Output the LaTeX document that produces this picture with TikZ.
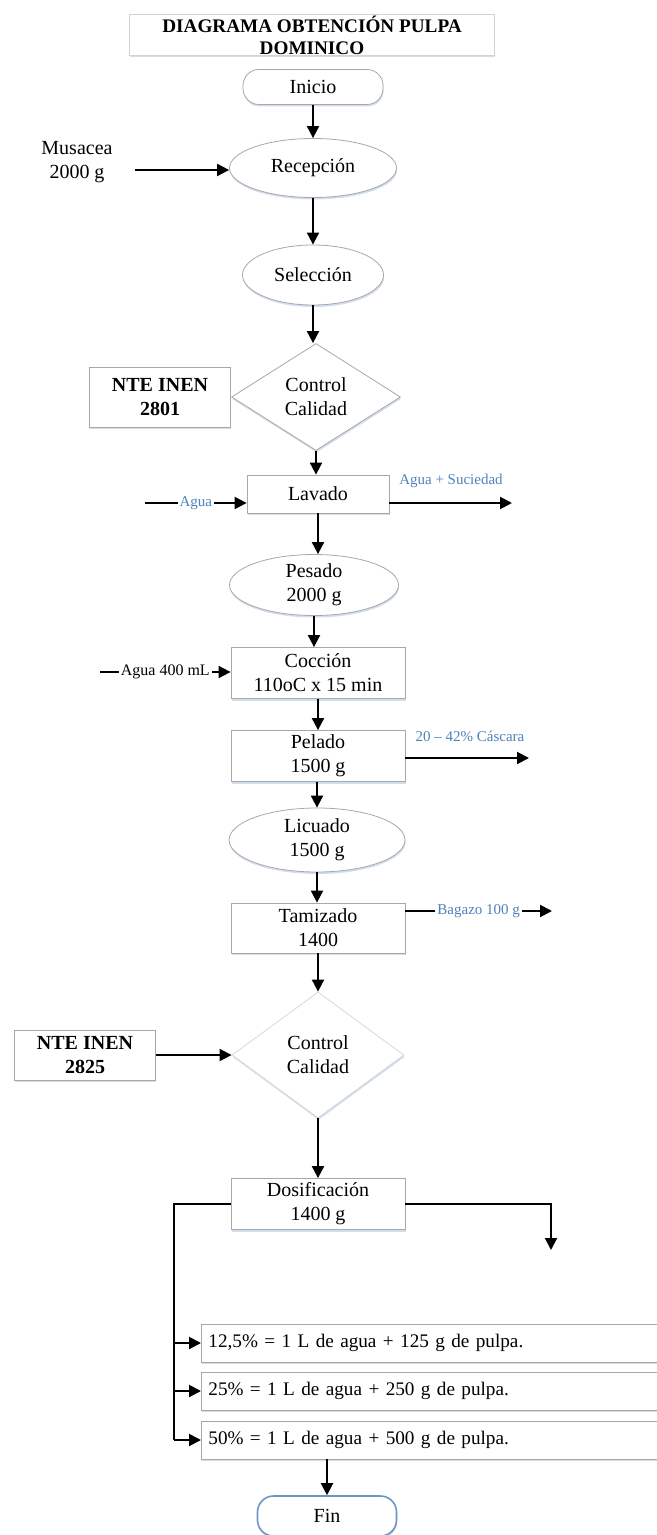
\documentclass[tikz,border=0pt]{standalone}
\usepackage{fontspec}
\setmainfont{Liberation Serif}
\usepackage{tikz}
\usetikzlibrary{arrows.meta, shapes.geometric, shadows, positioning}
\definecolor{azul}{HTML}{4F81BD}
\definecolor{borde}{HTML}{A8A8A8}
\definecolor{sombra}{HTML}{CCDAEC}
\definecolor{bordefin}{HTML}{6A96C8}

\begin{document}
\begin{tikzpicture} [x=0.5pt, y=-0.5pt,
	font=\fontsize{10}{12}\selectfont,
	flecha/.style={-{Triangle[length=6pt, width=6pt]}, line width=1pt},
	linea/.style={line width=1pt},
	caja/.style={draw=borde, fill=white, align=center, inner sep=0pt,
		drop shadow={shadow xshift=0.3pt, shadow yshift=-1pt, fill=sombra, opacity=0.9}},
	oval/.style={caja, ellipse},
	rombo/.style={caja, diamond, aspect=1.5},
	inicio/.style={caja, rounded corners=8pt},
	nota/.style={caja, font=\fontsize{10}{12}\selectfont\bfseries},
	opcion/.style={caja, anchor=west, align=left, text width=243pt,
		inner xsep=3.5pt, minimum height=19pt, font=\fontsize{9.6}{12}\selectfont},
	salida/.style={font=\fontsize{7.5}{9}\selectfont, text=azul, inner sep=1pt}]
	
	\useasboundingbox (0,0) rectangle (657,1535);
	\clip (0,0) rectangle (657,1535);
	
	% titulo e inicio
	\node[caja, draw=borde!50, font=\fontsize{9.6}{11}\selectfont\bfseries,
		minimum width=182.5pt, minimum height=20.5pt] (titulo) at (312,35)
		{DIAGRAMA OBTENCIÓN PULPA\\DOMINICO};
	\node[inicio, minimum width=70pt, minimum height=17.5pt] (inicio) at (313,87) {Inicio};
	
	% etapas del proceso
	\node[oval, minimum width=83.5pt, minimum height=29.5pt] (recepcion) at (313,168) {Recepción};
	\node[oval, minimum width=70.5pt, minimum height=30pt] (seleccion) at (313,275) {Selección};
	\node[rombo, minimum width=84.5pt, minimum height=53.5pt] (controlA) at (316,397) {Control\\Calidad};
	\node[nota, minimum width=70.5pt, minimum height=30pt] (nteA) at (160,397) {NTE INEN\\2801};
	\node[caja, minimum width=71pt, minimum height=19pt] (lavado) at (318,494) {Lavado};
	\node[oval, minimum width=84.5pt, minimum height=30.5pt] (pesado) at (314,585) {Pesado\\2000 g};
	\node[caja, minimum width=87pt, minimum height=25.5pt] (coccion) at (318,673) {Cocción\\110oC x 15 min};
	\node[caja, minimum width=87pt, minimum height=25.5pt] (pelado) at (318,756) {Pelado\\1500 g};
	\node[oval, minimum width=88pt, minimum height=32pt] (licuado) at (317,840) {Licuado\\1500 g};
	\node[caja, minimum width=87pt, minimum height=25pt] (tamizado) at (318,928) {Tamizado\\1400};
	\node[rombo, draw=borde!45, minimum width=86pt, minimum height=63pt] (controlB) at (318,1055) {Control\\Calidad};
	\node[nota, minimum width=70.5pt, minimum height=25pt] (nteB) at (85,1055) {NTE INEN\\2825};
	\node[caja, minimum width=87pt, minimum height=25.5pt] (dosificacion) at (318,1204) {Dosificación\\1400 g};
	
	% diluciones
	\node[opcion] (opcA) at (201,1343) {12,5\% = 1 L de agua + 125 g de pulpa.};
	\node[opcion] (opcB) at (201,1391) {25\% = 1 L de agua + 250 g de pulpa.};
	\node[opcion] (opcC) at (201,1440) {50\% = 1 L de agua + 500 g de pulpa.};
	\node[inicio, draw=bordefin, line width=0.8pt, minimum width=69.5pt, minimum height=20pt] (fin) at (327,1516) {Fin};
	
	% entradas y salidas
	\node[align=center] (musacea) at (77,162) {Musacea\\2000 g};
	\coordinate (musaceaIn) at (135,170);
	\coordinate (aguaIn) at (145,503);
	\coordinate (lavadoOut) at (512,503);
	\coordinate (coccionIn) at (100,672);
	\coordinate (peladoOut) at (529,758);
	\coordinate (tamizadoOut) at (552,911);
	\coordinate (rama) at (174,1204);
	\coordinate (dosisOut) at (551,1250);
	
	% flujo principal
	\draw[flecha] (inicio) -- (recepcion);
	\draw[flecha] (recepcion) -- (seleccion);
	\draw[flecha] (seleccion.south) -- (seleccion.south |- controlA.north);
	\draw[flecha] (controlA.south) -- (controlA.south |- lavado.north);
	\draw[flecha] (lavado.south) -- (lavado.south |- pesado.north);
	\draw[flecha] (pesado.south) -- (pesado.south |- coccion.north);
	\draw[flecha] (coccion) -- (pelado);
	\draw[flecha] (licuado.north |- pelado.south) -- (licuado.north);
	\draw[flecha] (licuado.south) -- (licuado.south |- tamizado.north);
	\draw[flecha] (tamizado) -- (controlB);
	\draw[flecha] (nteB) -- (controlB);
	\draw[flecha] (controlB) -- (dosificacion);
	
	% corrientes laterales
	\draw[flecha] (musaceaIn) -- (musaceaIn -| recepcion.west);
	\draw[flecha] (aguaIn) -- node[salida, fill=white] {Agua} (aguaIn -| lavado.west);
	\draw[flecha] (lavadoOut -| lavado.east) -- (lavadoOut);
	\node[salida] (suciedad) at (451,481) {Agua + Suciedad};
	\draw[flecha] (coccionIn) -- node[fill=white, inner sep=1pt, font=\fontsize{8}{9}\selectfont] {Agua 400 mL} (coccionIn -| coccion.west);
	\draw[flecha] (peladoOut -| pelado.east) -- (peladoOut);
	\node[salida] (cascara) at (470,736) {20 – 42\% Cáscara};
	\draw[flecha] (tamizadoOut -| tamizado.east) -- node[salida, fill=white] {Bagazo 100 g} (tamizadoOut);
	
	% reparto de la dosificacion
	\draw[linea] (dosificacion.west) -- (rama) -- (rama |- opcC.west);
	\draw[flecha] (rama |- opcA.west) -- (opcA.west);
	\draw[flecha] (rama |- opcB.west) -- (opcB.west);
	\draw[flecha] (rama |- opcC.west) -- (opcC.west);
	\draw[flecha] (dosificacion.east) -| (dosisOut);
	\draw[flecha] (opcC.south -| fin.north) -- (fin.north);
	
\end{tikzpicture}
\end{document}
